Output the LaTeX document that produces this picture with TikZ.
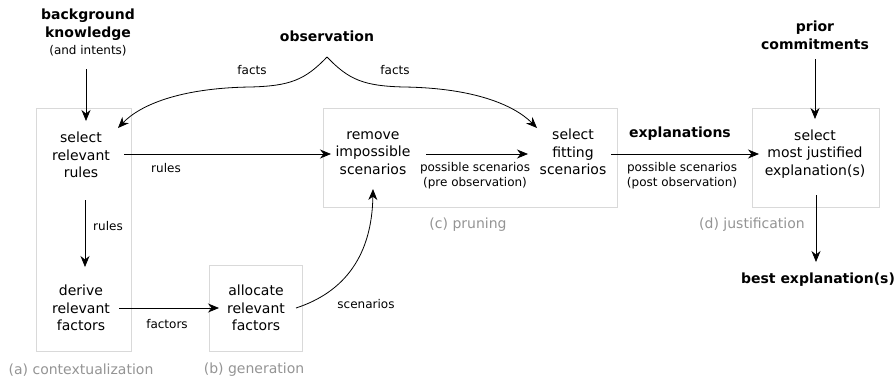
\documentclass[tikz,border=0pt]{standalone}
\usepackage{fontspec}
\setmainfont{DejaVu Sans}
\usetikzlibrary{arrows.meta}
\begin{document}
\begin{tikzpicture}[x=1pt,y=-1pt,
  txt/.style={align=center,inner sep=0pt,font=\fontsize{14}{17.5}\selectfont},
  btxt/.style={align=center,inner sep=0pt,font=\fontsize{14}{18}\selectfont\bfseries},
  small/.style={align=center,inner sep=0pt,font=\fontsize{12}{15}\selectfont},
  grp/.style={align=center,inner sep=0pt,font=\fontsize{14}{17}\selectfont,text=black!42},
  frame/.style={draw=black!15,line width=0.9pt},
  arr/.style={-{Stealth[length=11pt,width=9pt,inset=3.5pt]},line width=0.8pt}]
\useasboundingbox (0,0) rectangle (896,381);
% frames
\draw[frame] (36,108) rectangle (131,351);
\draw[frame] (209,265) rectangle (302,351);
\draw[frame] (323,108) rectangle (617,207);
\draw[frame] (752,108) rectangle (879,207);
% group labels
\node[grp] (ga) at (81,370) {(a) contextualization};
\node[grp] (gb) at (254,370) {(b) generation};
\node[grp] (gc) at (468,225) {(c) pruning};
\node[grp] (gd) at (752,225) {(d) justification};
% main nodes
\node[btxt] (bk) at (88,25) {background\\knowledge};
\node[small] (bki) at (88,51) {(and intents)};
\node[txt] (sel) at (81,155) {select\\relevant\\rules};
\node[txt] (der) at (81,308) {derive\\relevant\\factors};
\node[txt] (alloc) at (256,308) {allocate\\relevant\\factors};
\node[txt] (rem) at (373,153) {remove\\impossible\\scenarios};
\node[txt] (fit) at (573,152) {select\\fitting\\scenarios};
\node[txt] (just) at (815,154) {select\\most justified\\explanation(s)};
\node[btxt] (obs) at (327,36) {observation};
\node[btxt] (prior) at (815,35) {prior\\commitments};
\node[btxt] (best) at (818,280) {best explanation(s)};
\node[btxt] (expl) at (680,134) {explanations};
% coordinates
\coordinate (bks) at (86,69);
\coordinate (bke) at (86,121);
\coordinate (r1s) at (85,200);
\coordinate (r1e) at (85,267);
\coordinate (obt) at (327,57);
\coordinate (fl) at (118,128);
\coordinate (fr) at (537,128);
\coordinate (prs) at (815,59);
\coordinate (pre) at (815,119);
\coordinate (bes) at (816,195);
\coordinate (bee) at (816,262);
\coordinate (s1) at (124,154);
\coordinate (s2) at (331,154);
\coordinate (p1) at (426,154);
\coordinate (p2) at (528,154);
\coordinate (q1) at (611,154);
\coordinate (q2) at (759,154);
\coordinate (f1) at (119,308);
\coordinate (f2) at (219,308);
\coordinate (c1) at (296,308);
\coordinate (c2) at (373,189);
% connectors
\draw[arr] (bks) -- (bke);
\draw[arr] (r1s) -- (r1e);
\node[small] (lr1) at (108,226) {rules};
\draw[arr] (s1) -- (s2);
\node[small] (lr2) at (166,168) {rules};
\draw[arr] (p1) -- (p2);
\node[small] (lpre) at (475,176) {possible scenarios\\(pre observation)};
\draw[arr] (q1) -- (q2);
\node[small] (lpost) at (682,175.5) {possible scenarios\\(post observation)};
\draw[arr] (f1) -- (f2);
\node[small] (lf) at (167,324) {factors};
\draw[arr] (c1) .. controls (345,292) and (372,255) .. (c2);
\node[small] (ls) at (366,304) {scenarios};
\draw[arr] (obt) .. controls (305,80) and (290,86) .. (250,87)
  .. controls (180,88) and (140,105) .. (fl);
\draw[arr] (obt) .. controls (349,80) and (364,86) .. (404,87)
  .. controls (474,88) and (514,105) .. (fr);
\node[small] (lfl) at (252,70) {facts};
\node[small] (lfr) at (395,70) {facts};
\draw[arr] (prs) -- (pre);
\draw[arr] (bes) -- (bee);
\end{tikzpicture}
\end{document}
